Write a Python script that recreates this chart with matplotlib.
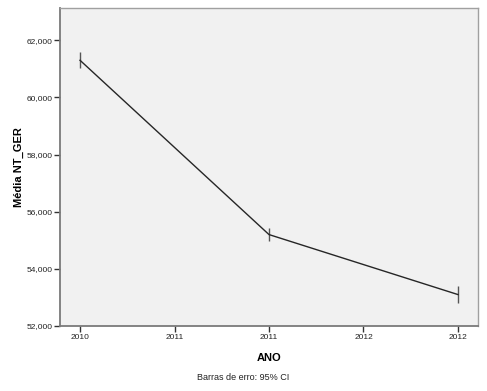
import matplotlib
matplotlib.use("Agg")
import matplotlib.pyplot as plt
from matplotlib.ticker import FuncFormatter

years = [2010, 2011, 2012]
means = [61300, 55200, 53100]
ci_half = [280, 215, 300]

xtick_pos = [2010, 2010.5, 2011, 2011.5, 2012]
xtick_labels = ["2010", "2011", "2011", "2012", "2012"]
ytick_pos = [52000, 54000, 56000, 58000, 60000, 62000]

plt.rcParams['font.family'] = ['Liberation Sans', 'DejaVu Sans']

fig = plt.figure(figsize=(4.87, 3.91), dpi=100)
W, H = 487, 391
ax = fig.add_axes([60 / W, (H - 326) / H, 418 / W, 318 / H])
ax.set_facecolor('#f1f1f1')

ax.plot(years, means, color='#262626', lw=1.0, zorder=3)
ax.errorbar(years, means, yerr=ci_half, fmt='none', ecolor='#555555',
            elinewidth=1.0, capsize=0, zorder=2)

ax.set_xlim(2009.894, 2012.106)
ax.set_ylim(52000, 63130)
ax.set_xticks(xtick_pos)
ax.set_xticklabels(xtick_labels)
ax.set_yticks(ytick_pos)
ax.yaxis.set_major_formatter(FuncFormatter(lambda v, p: f"{int(v):,}"))

for s in ['left', 'bottom']:
    ax.spines[s].set_color('#7a7a7a')
    ax.spines[s].set_linewidth(1.3)
for s in ['top', 'right']:
    ax.spines[s].set_color('#a0a0a0')
    ax.spines[s].set_linewidth(1.0)

ax.tick_params(axis='both', direction='out', length=4, width=1.0,
               color='#333333', labelsize=6, labelcolor='#222222', pad=1.5)

ax.set_ylabel('Média NT_GER', fontsize=8, fontweight='bold', labelpad=2)
ax.set_xlabel('ANO', fontsize=8, fontweight='bold', labelpad=9)

fig.text(0.5, (H - 378) / H, 'Barras de erro: 95% CI', ha='center', va='center',
         fontsize=6.5, color='#222222')

fig.savefig('out.png', dpi=100)
